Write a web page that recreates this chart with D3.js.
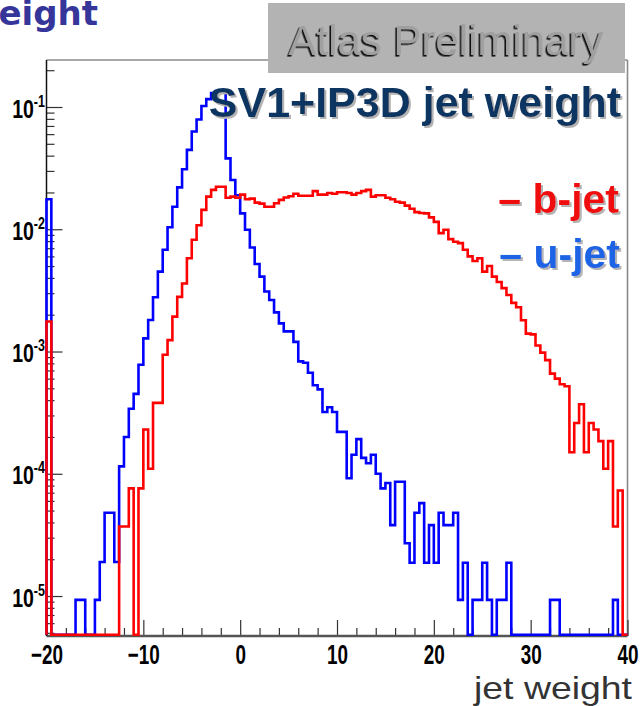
<!DOCTYPE html>
<html><head><meta charset="utf-8">
<script src="https://cdn.jsdelivr.net/npm/d3@7"></script>
<style>body{margin:0;background:#fff;} svg{display:block;}</style>
</head><body>
<svg id="chart" width="641" height="706"></svg>
<script>
// ---------- data ----------
const xRange = [-20, 40];
const binWidth = 0.5;
const xMajorTicks = [-20, -10, 0, 10, 20, 30, 40];
const yDecadeExponents = [-5, -4, -3, -2, -1];
const seriesNames = ["b-jet", "u-jet"];
const titleText = "SV1+IP3D jet weight";
const bannerText = "Atlas Preliminary";
const xAxisTitle = "jet weight";
const slideTitleFragment = "weight";

// u-jet (blue), 120 bins from -20 to 40
const uJet = [
  0.0176, 0, 0, 0, 0, 0, 9.3e-6, 9.3e-6, 0, 0,
  9.3e-6, 1.9e-5, 4.8e-5, 4.8e-5, 1.9e-5, 1.15e-4, 2.0e-4, 3.4e-4, 4.5e-4, 7.8e-4,
  1.28e-3, 1.81e-3, 2.78e-3, 4.5e-3, 6.8e-3, 0.0104, 0.0153, 0.022, 0.031, 0.0446,
  0.063, 0.079, 0.102, 0.116, 0.13, 0.135, 0.135, 0.038, 0.0253, 0.019,
  0.0135, 0.0099, 0.0071, 0.0052, 0.0041, 0.0031, 0.00264, 0.00209, 0.0017, 0.00146,
  0.00146, 0.0012, 8.3e-4, 8.1e-4, 6.7e-4, 5.3e-4, 4.9e-4, 3.2e-4, 3.5e-4, 3.2e-4,
  2.2e-4, 2.2e-4, 9.2e-5, 1.43e-4, 1.92e-4, 1.35e-4, 1.22e-4, 1.43e-4, 1.0e-4, 7.6e-5,
  8.4e-5, 3.8e-5, 8.6e-5, 8.6e-5, 2.7e-5, 1.87e-5, 4.8e-5, 5.75e-5, 1.87e-5, 3.8e-5,
  1.87e-5, 4.8e-5, 3.8e-5, 3.8e-5, 4.8e-5, 9.3e-6, 1.87e-5, 0, 9.3e-6, 9.3e-6,
  1.87e-5, 9.3e-6, 0, 9.3e-6, 9.3e-6, 1.87e-5, 0, 0, 0, 0,
  0, 0, 0, 0, 9.3e-6, 9.3e-6, 0, 0, 0, 0,
  0, 0, 0, 0, 0, 0, 0, 9.3e-6, 0, 0
];

// b-jet (red), 120 bins from -20 to 40
const bJet = [
  0.00176, 0, 0, 0, 0, 0, 0, 0, 0, 0,
  0, 0, 0, 0, 0, 3.7e-5, 3.7e-5, 7.6e-5, 0, 7.6e-5,
  2.3e-4, 1.1e-4, 3.8e-4, 3.8e-4, 9.4e-4, 1.24e-3, 1.93e-3, 2.8e-3, 3.6e-3, 5.8e-3,
  8.2e-3, 0.0108, 0.0144, 0.0185, 0.021, 0.0223, 0.0223, 0.0181, 0.0185, 0.0181,
  0.0192, 0.0176, 0.0178, 0.0165, 0.0162, 0.0153, 0.0153, 0.0163, 0.0174, 0.0182,
  0.0186, 0.0195, 0.0188, 0.0188, 0.0188, 0.0205, 0.0192, 0.0192, 0.0198, 0.0195,
  0.0201, 0.0201, 0.0198, 0.0192, 0.0198, 0.0205, 0.021, 0.0185, 0.019, 0.019,
  0.0181, 0.0176, 0.0168, 0.0165, 0.0156, 0.0147, 0.0138, 0.0136, 0.0135, 0.0125,
  0.0115, 0.0093, 0.0099, 0.0083, 0.0079, 0.0077, 0.0068, 0.006, 0.0055, 0.0058,
  0.0045, 0.005, 0.0041, 0.0037, 0.0033, 0.0029, 0.0025, 0.0023, 0.0018, 0.0014,
  0.00138, 0.00112, 0.00098, 0.00085, 0.00066, 0.0006, 0.00054, 0.00052, 1.5e-4, 2.6e-4,
  3.7e-4, 1.5e-4, 2.6e-4, 2.3e-4, 1.85e-4, 1.1e-4, 1.85e-4, 3.7e-5, 7.3e-5, 0
];

// ---------- layout ----------
const svg = d3.select("#chart");
const plot = { left: 46.5, right: 627.5, top: 60, bottom: 636 };
const yDomain = [Math.pow(10, -5.327), Math.pow(10, -0.6155)];
const FONT = "Liberation Sans, Arial, Helvetica, sans-serif";

const x = d3.scaleLinear().domain(xRange).range([plot.left, plot.right]);
const y = d3.scaleLog().domain(yDomain).range([plot.bottom, plot.top]);

const edges = d3.range(xRange[0], xRange[1] + binWidth / 2, binWidth);

function histPoints(vals) {
  const base = plot.bottom - 1.3;
  const pts = [[x(edges[0]), base]];
  vals.forEach((v, i) => {
    const yy = v > yDomain[0] ? y(v) : base;
    pts.push([x(edges[i]), yy]);
    pts.push([x(edges[i + 1]), yy]);
  });
  pts.push([x(edges[edges.length - 1]), base]);
  return pts;
}
const line = d3.line();

// ---------- filters (text shadows) ----------
const defs = svg.append("defs");
const fLight = defs.append("filter").attr("id", "shadowLight")
  .attr("x", "-5%").attr("y", "-20%").attr("width", "115%").attr("height", "150%");
fLight.append("feDropShadow").attr("dx", 2).attr("dy", 2).attr("stdDeviation", 0.6)
  .attr("flood-color", "#b4b4b4").attr("flood-opacity", 1);
const fDark = defs.append("filter").attr("id", "shadowDark")
  .attr("x", "-5%").attr("y", "-20%").attr("width", "115%").attr("height", "150%");
fDark.append("feDropShadow").attr("dx", -1.6).attr("dy", 1.6).attr("stdDeviation", 0.4)
  .attr("flood-color", "#111").attr("flood-opacity", 1);

// ---------- slide fragment (cut off at the top-left) ----------
svg.append("text")
  .attr("x", 98).attr("y", 25)
  .attr("text-anchor", "end")
  .attr("font-family", "DejaVu Sans, Verdana, sans-serif")
  .attr("font-weight", "bold").attr("font-size", 34)
  .attr("fill", "#35359a")
  .text(slideTitleFragment);

// ---------- frame ----------
const clipId = "plotclip";
defs.append("clipPath").attr("id", clipId)
  .append("rect").attr("x", plot.left - 2).attr("y", plot.top)
  .attr("width", plot.right - plot.left + 4).attr("height", plot.bottom - plot.top + 2);

svg.append("line").attr("x1", plot.left).attr("x2", plot.right)
  .attr("y1", plot.top).attr("y2", plot.top)
  .attr("stroke", "#8a8a8a").attr("stroke-width", 1.6);
svg.append("line").attr("x1", plot.right).attr("x2", plot.right)
  .attr("y1", plot.top).attr("y2", plot.bottom)
  .attr("stroke", "#8a8a8a").attr("stroke-width", 1.6);

// ---------- x axis ----------
const minorX = d3.range(xRange[0], xRange[1] + 0.001, 2).filter(v => !xMajorTicks.includes(v));
const gxMinor = svg.append("g").attr("transform", `translate(0,${plot.bottom})`)
  .call(d3.axisBottom(x).tickValues(minorX).tickSize(-8).tickFormat(""));
const gx = svg.append("g").attr("transform", `translate(0,${plot.bottom})`)
  .call(d3.axisBottom(x).tickValues(xMajorTicks).tickSize(-16).tickPadding(0).tickFormat(d3.format("d")));
[gxMinor, gx].forEach(g => {
  g.select(".domain").remove();
  g.selectAll(".tick line").attr("stroke", "#333").attr("stroke-width", 1.2);
});
gx.selectAll(".tick text")
  .attr("y", 28).attr("dy", null)
  .attr("transform", "scale(0.7,1)")
  .attr("font-family", FONT)
  .attr("font-weight", "bold").attr("font-size", 27).attr("fill", "#000");
svg.append("line").attr("x1", plot.left).attr("x2", plot.right)
  .attr("y1", plot.bottom).attr("y2", plot.bottom)
  .attr("stroke", "#555").attr("stroke-width", 2.5);

// ---------- y axis ----------
const decades = yDecadeExponents.map(e => Math.pow(10, e));
const minorY = [];
for (let e = -6; e <= 0; e++) {
  for (let m = 2; m <= 9; m++) {
    const v = m * Math.pow(10, e);
    if (v > yDomain[0] && v < yDomain[1]) minorY.push(v);
  }
}
const gyMinor = svg.append("g").attr("transform", `translate(${plot.left},0)`)
  .call(d3.axisLeft(y).tickValues(minorY).tickSize(-8).tickFormat(""));
const gy = svg.append("g").attr("transform", `translate(${plot.left},0)`)
  .call(d3.axisLeft(y).tickValues(decades).tickSize(-16).tickFormat(""));
[gyMinor, gy].forEach(g => {
  g.select(".domain").remove();
  g.selectAll(".tick line").attr("stroke", "#333").attr("stroke-width", 1.2);
});
gy.selectAll(".tick").each(function(d, i) {
  const t = d3.select(this).append("text")
    .attr("x", -2).attr("y", 10)
    .attr("text-anchor", "end")
    .attr("font-family", FONT)
    .attr("font-weight", "bold").attr("fill", "#000")
    .attr("transform", "scale(0.78,1)");
  t.append("tspan").attr("font-size", 25).text("10");
  t.append("tspan").attr("font-size", 16).attr("dy", -11).text(yDecadeExponents[i]);
});
svg.append("line").attr("x1", plot.left).attr("x2", plot.left)
  .attr("y1", plot.top).attr("y2", plot.bottom)
  .attr("stroke", "#111").attr("stroke-width", 1.5);

// ---------- histograms ----------
const gh = svg.append("g").attr("clip-path", `url(#${clipId})`);
gh.append("path").attr("d", line(histPoints(uJet)))
  .attr("fill", "none").attr("stroke", "#0000ff").attr("stroke-width", 2.6);
gh.append("path").attr("d", line(histPoints(bJet)))
  .attr("fill", "none").attr("stroke", "#ff0000").attr("stroke-width", 2.6);

// ---------- x-axis title ----------
svg.append("text")
  .attr("x", 474).attr("y", 699)
  .attr("font-family", FONT)
  .attr("font-size", 32).attr("fill", "#333")
  .attr("textLength", 158).attr("lengthAdjust", "spacingAndGlyphs")
  .text(xAxisTitle);

// ---------- banner ----------
svg.append("rect").attr("x", 268).attr("y", 3).attr("width", 357).attr("height", 70)
  .attr("fill", "#b3b3b3");
svg.append("text").attr("x", 446).attr("y", 55).attr("text-anchor", "middle")
  .attr("font-family", FONT).attr("font-size", 42)
  .attr("fill", "#a0a0a0").attr("filter", "url(#shadowDark)")
  .text(bannerText);

// ---------- title & legend ----------
function shadowText(tx, ty, txt, size, color) {
  svg.append("text").attr("x", tx).attr("y", ty).attr("text-anchor", "end")
    .attr("font-family", FONT).attr("font-weight", "bold")
    .attr("font-size", size).attr("fill", color)
    .attr("filter", "url(#shadowLight)").text(txt);
}
shadowText(621, 117, titleText, 43, "#0d3562");
shadowText(619, 213, "\u2013 " + seriesNames[0], 41, "#f01010");
shadowText(620, 268, "\u2013 " + seriesNames[1], 41, "#1e64e6");
</script>
</body></html>
